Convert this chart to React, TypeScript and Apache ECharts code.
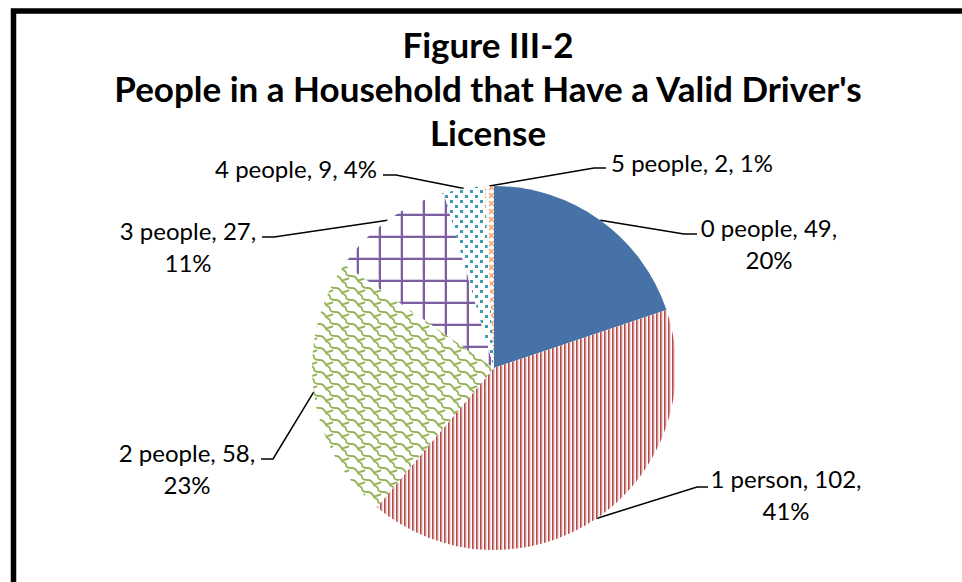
import React, { useEffect, useRef } from "react";
import * as echarts from "echarts";

// ---- data ----
const categories = ["0 people", "1 person", "2 people", "3 people", "4 people", "5 people"];
const counts = [49, 102, 58, 27, 9, 2];
const titleLines = ["Figure III-2", "People in a Household that Have a Valid Driver's", "License"];

// ---- label layout (positions of the label blocks / leader-line ends) ----
const labelWrap = [true, true, true, true, false, false];
// [text centre x, text top y, elbow x, elbow y, end x, end y]
const labelPlace: number[][] = [
  [769, 211, 684, 234, 697, 234],
  [786, 462, 697, 487, 708, 487],
  [187, 436, 273, 459, 261, 459],
  [188, 214, 274, 237, 262, 237],
  [296, 152, 396, 175, 383, 175],
  [692, 146, 594, 168, 606, 168],
];

function makeCanvas(w: number, h: number, draw: (ctx: CanvasRenderingContext2D) => void) {
  const c = document.createElement("canvas");
  c.width = w;
  c.height = h;
  const ctx = c.getContext("2d")!;
  ctx.fillStyle = "#ffffff";
  ctx.fillRect(0, 0, w, h);
  draw(ctx);
  return c;
}

function pattern(c: HTMLCanvasElement) {
  return { image: c, repeat: "repeat", imageWidth: c.width, imageHeight: c.height } as any;
}

function buildFills() {
  const stripes = makeCanvas(4, 4, (ctx) => {
    ctx.fillStyle = "#B44A47";
    ctx.fillRect(0, 0, 1, 4);
    ctx.fillStyle = "#D58E8C";
    ctx.fillRect(1, 0, 1, 4);
    ctx.fillStyle = "#F1D8D7";
    ctx.fillRect(2, 0, 1, 4);
  });
  const shingle = makeCanvas(16, 12, (ctx) => {
    ctx.strokeStyle = "#93B455";
    ctx.lineWidth = 1.8;
    for (const [ox, oy] of [[0, 0], [-16, -12], [16, 12], [-16, 0], [16, 0], [0, -12], [0, 12]]) {
      ctx.beginPath();
      ctx.moveTo(ox + 0, oy + 0);
      ctx.bezierCurveTo(ox + 4, oy + 0, ox + 5, oy + 3, ox + 6, oy + 5);
      ctx.bezierCurveTo(ox + 7, oy + 7, ox + 10, oy + 6, ox + 10, oy + 9);
      ctx.bezierCurveTo(ox + 10, oy + 11, ox + 12, oy + 12, ox + 16, oy + 12);
      ctx.moveTo(ox + 6, oy + 5);
      ctx.bezierCurveTo(ox + 8, oy + 3, ox + 11, oy + 4, ox + 13, oy + 2);
      ctx.stroke();
    }
  });
  const grid = makeCanvas(22, 22, (ctx) => {
    ctx.fillStyle = "#D9CFE4";
    ctx.fillRect(4, 0, 1, 22);
    ctx.fillRect(0, 15, 22, 1);
    ctx.fillStyle = "#7B5F9E";
    ctx.fillRect(5, 0, 2, 22);
    ctx.fillRect(0, 16, 22, 2);
  });
  const dots = makeCanvas(10, 10, (ctx) => {
    ctx.fillStyle = "#3D9AB2";
    ctx.fillRect(0, 0, 3, 3);
    ctx.fillRect(5, 5, 3, 3);
  });
  const crosses = makeCanvas(8, 8, (ctx) => {
    ctx.strokeStyle = "#F0965A";
    ctx.lineWidth = 1.2;
    ctx.beginPath();
    ctx.moveTo(1, 1);
    ctx.lineTo(6, 6);
    ctx.moveTo(6, 1);
    ctx.lineTo(1, 6);
    ctx.stroke();
  });
  return [
    "#4672A7",
    pattern(stripes),
    pattern(shingle),
    pattern(grid),
    pattern(dots),
    pattern(crosses),
  ];
}

export default function App() {
  const ref = useRef<HTMLDivElement>(null);
  useEffect(() => {
    if (!ref.current) return;
    const chart = echarts.init(ref.current, undefined, { renderer: "svg" });
    const fills = buildFills();
    const total = counts.reduce((a, b) => a + b, 0);
    chart.setOption({
      animation: false,
      backgroundColor: "#ffffff",
      graphic: [
        {
          type: "rect",
          shape: { x: 13.5, y: 11, width: 1000, height: 1000 },
          style: { fill: "none", stroke: "#000", lineWidth: 5.5 },
          z: 10,
        },
        {
          type: "text",
          x: 488,
          y: 22,
          style: {
            text: titleLines.join("\n"),
            align: "center",
            verticalAlign: "top",
            fontFamily: "Lato",
            fontWeight: "bold",
            fontSize: 35,
            lineHeight: 44,
            fill: "#000",
          },
        },
      ],
      series: [
        {
          type: "pie",
          center: [494, 368],
          radius: 182,
          startAngle: 90,
          clockwise: true,
          avoidLabelOverlap: false,
          itemStyle: { borderWidth: 0 },
          emphasis: { disabled: true },
          label: {
            show: true,
            position: "outside",
            color: "#000",
            fontFamily: "Lato",
            fontSize: 24,
            lineHeight: 32,
            formatter: (p: any) => {
              const pct = Math.round((p.value / total) * 100);
              return `${p.name}, ${p.value},${labelWrap[p.dataIndex] ? "\n" : " "}${pct}%`;
            },
          },
          labelLine: { show: true, length: 10, length2: 10, lineStyle: { color: "#000", width: 1.5 } },
          labelLayout: (params: any) => {
            const pl = labelPlace[params.dataIndex];
            const pts = params.labelLinePoints || [[0, 0]];
            return {
              x: pl[0],
              y: pl[1],
              align: "center",
              verticalAlign: "top",
              labelLinePoints: [pts[0], [pl[2], pl[3]], [pl[4], pl[5]]],
            };
          },
          data: categories.map((name, i) => ({
            name,
            value: counts[i],
            itemStyle: { color: fills[i] },
          })),
        },
      ],
    });
    return () => chart.dispose();
  }, []);
  return <div ref={ref} style={{ position: "fixed", left: 0, top: 0, width: 962, height: 582 }} />;
}
